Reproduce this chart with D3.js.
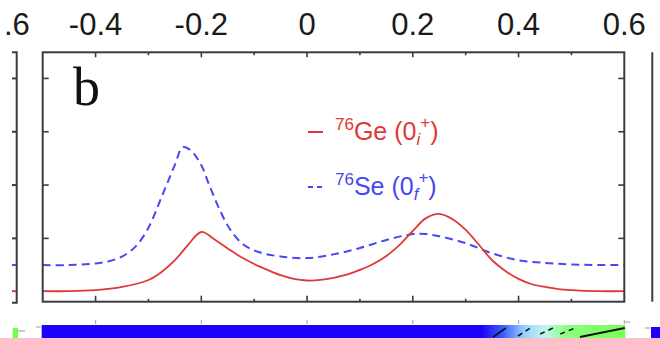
<!DOCTYPE html>
<html><head><meta charset="utf-8">
<script src="https://cdn.jsdelivr.net/npm/d3@7"></script>
<style>html,body{margin:0;padding:0;background:#fff;}svg{display:block;}</style>
</head><body>
<script>
// ---- data ----
const topTickValues = [-0.4, -0.2, 0, 0.2, 0.4, 0.6];
const topTickLabels = ["-0.4", "-0.2", "0", "0.2", "0.4", "0.6"];
const majorTicks = [-0.4, -0.2, 0, 0.2, 0.4];
const minorTicks = [-0.3, -0.1, 0.1, 0.3, 0.5];
const yTicks = [1, 2, 3, 4];
const neighborLabel = ".6";   // visible part of the neighbouring panel's "0.6"

const geX = [-0.5,-0.45,-0.4,-0.35,-0.3,-0.275,-0.25,-0.225,-0.2,-0.175,-0.15,-0.125,-0.1,-0.075,-0.05,-0.025,0,0.025,0.05,0.075,0.1,0.125,0.15,0.175,0.2,0.225,0.25,0.275,0.3,0.325,0.35,0.375,0.4,0.425,0.45,0.475,0.5,0.55,0.6];
const geY = [0.01,0.01,0.03,0.09,0.22,0.37,0.59,0.88,1.12,0.98,0.81,0.65,0.52,0.41,0.31,0.24,0.21,0.22,0.26,0.32,0.41,0.52,0.67,0.88,1.14,1.38,1.46,1.36,1.16,0.88,0.59,0.39,0.24,0.14,0.09,0.05,0.03,0.01,0.01];

const seX = [-0.5,-0.45,-0.4,-0.375,-0.35,-0.325,-0.3,-0.275,-0.25,-0.235,-0.22,-0.2,-0.185,-0.165,-0.145,-0.12,-0.09,-0.05,0,0.05,0.1,0.15,0.2,0.225,0.25,0.3,0.35,0.4,0.45,0.5,0.55,0.6];
const seY = [0.50,0.50,0.53,0.57,0.66,0.84,1.20,1.78,2.38,2.71,2.65,2.37,2.00,1.53,1.16,0.88,0.74,0.66,0.63,0.70,0.82,0.97,1.08,1.08,1.04,0.91,0.72,0.59,0.54,0.51,0.50,0.50];

const legendItems = [
  {nucleus: "76", element: "Ge", sub: "i", color: "#e03838", dash: null},
  {nucleus: "76", element: "Se", sub: "f", color: "#4848f0", dash: "5,4"}
];

// bottom colour strip (next panel) : gradient stops along x and contour pieces
const stripStopX = [-0.5, 0.33, 0.37, 0.41, 0.45, 0.49, 0.6];
const stripStopC = ["#1e00fa", "#1e00fa", "#3a5cff", "#98d0ff", "#c0f6ee", "#8cff80", "#78ff55"];
const contourSolid = [
  {x: [0.352, 0.376], y: [0.12, 0.03]},
  {x: [0.516, 0.601], y: [0.12, 0.03]}
];
const contourDashed = [
  {x: [0.399, 0.425], y: [0.11, 0.02]},
  {x: [0.441, 0.465], y: [0.09, 0.03]},
  {x: [0.479, 0.507], y: [0.09, 0.03]}
];

// ---- layout ----
const W = 660, H = 338;
const L = 42.7, R = 624.3, T = 52.3, B = 301.7;
const frameColor = "#3c3c3c";

const svg = d3.select("body").append("svg").attr("width", W).attr("height", H);
svg.append("rect").attr("width", W).attr("height", H).attr("fill", "#fff");

const x = d3.scaleLinear().domain([-0.5, 0.6]).range([L, R]);
const y = d3.scaleLinear().domain([-0.1875, 4.49]).range([B, T]);

// top labels
svg.append("g").selectAll("text").data(topTickValues).join("text")
  .attr("x", d => x(d)).attr("y", 35)
  .attr("text-anchor", "middle")
  .attr("font-family", "Liberation Sans, Arial, sans-serif")
  .attr("font-size", 31).attr("fill", "#1a1a1a")
  .text((d, i) => topTickLabels[i]);
svg.append("text").attr("x", 4).attr("y", 35)
  .attr("font-family", "Liberation Sans, Arial, sans-serif")
  .attr("font-size", 31).attr("fill", "#1a1a1a").text(neighborLabel);

// ---- left neighbour panel edge ----
const ln = svg.append("g").attr("stroke", frameColor).attr("stroke-width", 2).attr("fill", "none");
ln.append("path").attr("d", `M12,${T}H16.7V${B+1}H12`);
ln.selectAll("line.t").data(yTicks).join("line")
  .attr("x1", 12).attr("x2", 16.7).attr("y1", d => y(d)).attr("y2", d => y(d));
svg.append("line").attr("x1", 12).attr("x2", 16).attr("y1", y(seY[0])).attr("y2", y(seY[0]))
  .attr("stroke", legendItems[1].color).attr("stroke-width", 2);
svg.append("line").attr("x1", 12).attr("x2", 16).attr("y1", y(geY[0])).attr("y2", y(geY[0]))
  .attr("stroke", legendItems[0].color).attr("stroke-width", 2);

// ---- right neighbour panel edge ----
svg.append("line").attr("x1", 652.3).attr("x2", 652.3).attr("y1", T).attr("y2", B)
  .attr("stroke", frameColor).attr("stroke-width", 2);

// ---- main panel ----
const g = svg.append("g");
const tk = g.append("g").attr("stroke", frameColor).attr("stroke-width", 1.6);
tk.selectAll("line.mt").data(majorTicks).join("line")
  .attr("x1", d => x(d)).attr("x2", d => x(d)).attr("y1", T).attr("y2", T + 5);
tk.selectAll("line.mb").data(majorTicks).join("line")
  .attr("x1", d => x(d)).attr("x2", d => x(d)).attr("y1", B).attr("y2", B - 6);
tk.selectAll("line.nt").data(minorTicks).join("line")
  .attr("x1", d => x(d)).attr("x2", d => x(d)).attr("y1", T).attr("y2", T + 3);
tk.selectAll("line.nb").data(minorTicks).join("line")
  .attr("x1", d => x(d)).attr("x2", d => x(d)).attr("y1", B).attr("y2", B - 3);
tk.selectAll("line.yl").data(yTicks).join("line")
  .attr("x1", L).attr("x2", L + 6).attr("y1", d => y(d)).attr("y2", d => y(d));
tk.selectAll("line.yr").data(yTicks).join("line")
  .attr("x1", R).attr("x2", R - 6).attr("y1", d => y(d)).attr("y2", d => y(d));

// curves
const line = d3.line().x(d => x(d[0])).y(d => y(d[1])).curve(d3.curveCatmullRom.alpha(0.5));
g.append("path").datum(seX.map((v, i) => [v, seY[i]]))
  .attr("d", line).attr("fill", "none").attr("stroke", legendItems[1].color)
  .attr("stroke-width", 2).attr("stroke-dasharray", "8,5");
g.append("path").datum(geX.map((v, i) => [v, geY[i]]))
  .attr("d", line).attr("fill", "none").attr("stroke", legendItems[0].color)
  .attr("stroke-width", 1.8);

// frame
g.append("rect").attr("x", L).attr("y", T).attr("width", R - L).attr("height", B - T)
  .attr("fill", "none").attr("stroke", frameColor).attr("stroke-width", 2);

// panel letter
g.append("text").attr("x", 73).attr("y", 105)
  .attr("font-family", "Liberation Serif, Times New Roman, serif")
  .attr("font-size", 54).attr("fill", "#111").text("b");

// legend
const leg = g.append("g");
legendItems.forEach((it, i) => {
  const ly = 132 + i * 55;
  leg.append("line").attr("x1", 308).attr("x2", 323).attr("y1", ly).attr("y2", ly)
    .attr("stroke", it.color).attr("stroke-width", 2)
    .attr("stroke-dasharray", it.dash);
  const t = leg.append("text").attr("x", 335).attr("y", ly + 8)
    .attr("font-family", "Liberation Sans, Arial, sans-serif")
    .attr("font-size", 25).attr("fill", it.color);
  t.append("tspan").attr("font-size", 17).attr("dy", -10).text(it.nucleus);
  t.append("tspan").attr("dy", 10).text(it.element + " (0");
  t.append("tspan").attr("font-size", 17).attr("font-style", "italic").attr("dy", 5).text(it.sub);
  t.append("tspan").attr("font-size", 17).attr("dx", 0).attr("dy", -17).text("+");
  t.append("tspan").attr("dy", 12).text(")");
});

// ---- bottom strip (next row) ----
const yb = d3.scaleLinear().domain([0, 1]).range([325, 425]);
const defs = svg.append("defs");
const grad = defs.append("linearGradient").attr("id", "strip")
  .attr("gradientUnits", "userSpaceOnUse")
  .attr("x1", x(-0.5)).attr("x2", x(0.6)).attr("y1", 0).attr("y2", 0);
grad.selectAll("stop").data(stripStopX).join("stop")
  .attr("offset", d => (d + 0.5) / 1.1)
  .attr("stop-color", (d, i) => stripStopC[i]);
svg.append("rect").attr("x", x(-0.5) - 1).attr("y", yb(0))
  .attr("width", x(0.6) - x(-0.5) + 2).attr("height", H - yb(0) + 2)
  .attr("fill", "url(#strip)");
const lc = d3.line().x(d => x(d[0])).y(d => yb(d[1]));
contourSolid.forEach(c => {
  svg.append("path").datum(c.x.map((v, i) => [v, c.y[i]])).attr("d", lc)
    .attr("stroke", "#111").attr("stroke-width", 1.8).attr("fill", "none");
});
contourDashed.forEach(c => {
  svg.append("path").datum(c.x.map((v, i) => [v, c.y[i]])).attr("d", lc)
    .attr("stroke", "#111").attr("stroke-width", 1.6).attr("fill", "none")
    .attr("stroke-dasharray", "5,4");
});
svg.append("g").attr("stroke", "#aaa").attr("stroke-width", 1.2)
  .selectAll("line").data(majorTicks.concat([0.6])).join("line")
  .attr("x1", d => x(d)).attr("x2", d => x(d)).attr("y1", yb(0) - 5).attr("y2", yb(0) - 1);
svg.append("line").attr("x1", x(-0.5) - 7).attr("x2", x(-0.5) - 2).attr("y1", 327).attr("y2", 327)
  .attr("stroke", "#aaa").attr("stroke-width", 1.2);
svg.append("line").attr("x1", x(0.6) + 1).attr("x2", x(0.6) + 6).attr("y1", 322).attr("y2", 322)
  .attr("stroke", "#aaa").attr("stroke-width", 1.2);
svg.append("rect").attr("x", 12.7).attr("y", 328).attr("width", 5.3).attr("height", 12).attr("fill", "#70ff50");
svg.append("line").attr("x1", 18).attr("x2", 25).attr("y1", 331).attr("y2", 331).attr("stroke", "#aaa").attr("stroke-width", 1.2);
svg.append("rect").attr("x", 651).attr("y", 327).attr("width", 12).attr("height", 12).attr("fill", "#1e00fa");
svg.append("line").attr("x1", 645).attr("x2", 650).attr("y1", 328).attr("y2", 328).attr("stroke", "#aaa").attr("stroke-width", 1.2);
</script>
</body></html>
